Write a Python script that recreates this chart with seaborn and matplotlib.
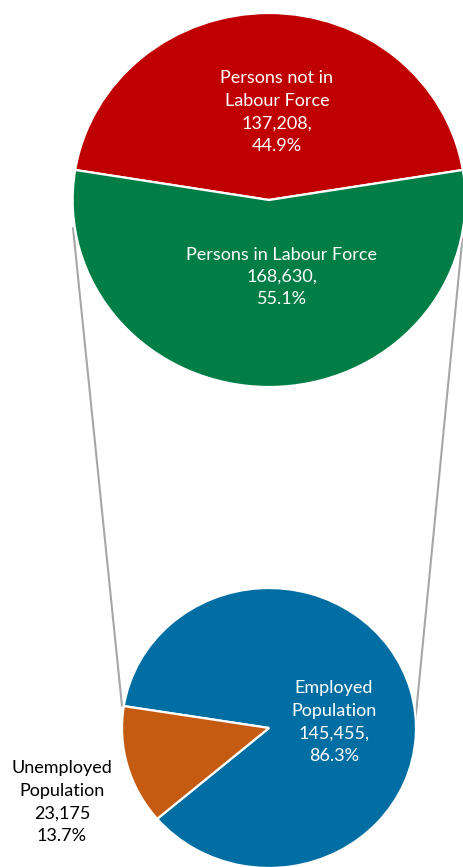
import matplotlib
matplotlib.use("Agg")
import matplotlib.pyplot as plt
import seaborn as sns

sns.set_theme(style="white")
plt.rcParams['font.family'] = ['Lato', 'DejaVu Sans']

# ---- data ----
main_labels = ["Persons not in\nLabour Force", "Persons in Labour Force"]
main_values = [137208, 168630]
sub_labels = ["Employed\nPopulation", "Unemployed\nPopulation"]
sub_values = [145455, 23175]

main_colors = ["#C00000", "#007E46"]
sub_colors = ["#006EA2", "#C55A11"]

W, H = 463, 867
SX = 1.05  # horizontal stretch of the pies


def X(px):
    return px / SX


def Y(py):
    return H - py


fig = plt.figure(figsize=(W / 100, H / 100), dpi=100)
ax = fig.add_axes([0, 0, 1, 1])

# connector lines
ax.plot([X(73), X(122)], [Y(228), Y(706)], color="#A6A6A6", lw=1.5, zorder=1)
ax.plot([X(464), X(415)], [Y(222), Y(724)], color="#A6A6A6", lw=1.5, zorder=1)

wedge_kw = dict(edgecolor="white", linewidth=1.6)

main_frac = [v / sum(main_values) for v in main_values]
start_main = 90 - main_frac[0] * 360 / 2
ax.pie(main_values, colors=main_colors, startangle=start_main,
       center=(X(269), Y(200)), radius=187, frame=True,
       wedgeprops=wedge_kw)

sub_frac = [v / sum(sub_values) for v in sub_values]
start_sub = 171 + sub_frac[1] * 360
ax.pie(sub_values, colors=sub_colors, startangle=start_sub,
       center=(X(269), Y(728)), radius=140, frame=True,
       wedgeprops=wedge_kw)

ax.set_xlim(0, W / SX)
ax.set_ylim(0, H)
ax.set_aspect('auto')
ax.axis('off')

fs = 13
ls = 1.5
ax.text(X(277), Y(112), f"{main_labels[0]}\n{main_values[0]:,},\n{main_frac[0]*100:.1f}%",
        ha="center", va="center", color="white", fontsize=fs, linespacing=ls)
ax.text(X(282), Y(277), f"{main_labels[1]}\n{main_values[1]:,},\n{main_frac[1]*100:.1f}%",
        ha="center", va="center", color="white", fontsize=fs, linespacing=ls)
ax.text(X(334), Y(722), f"{sub_labels[0]}\n{sub_values[0]:,},\n{sub_frac[0]*100:.1f}%",
        ha="center", va="center", color="white", fontsize=fs, linespacing=ls)
ax.text(X(62), Y(802), f"{sub_labels[1]}\n{sub_values[1]:,}\n{sub_frac[1]*100:.1f}%",
        ha="center", va="center", color="black", fontsize=fs, linespacing=ls)

fig.savefig("out.png", dpi=100)
